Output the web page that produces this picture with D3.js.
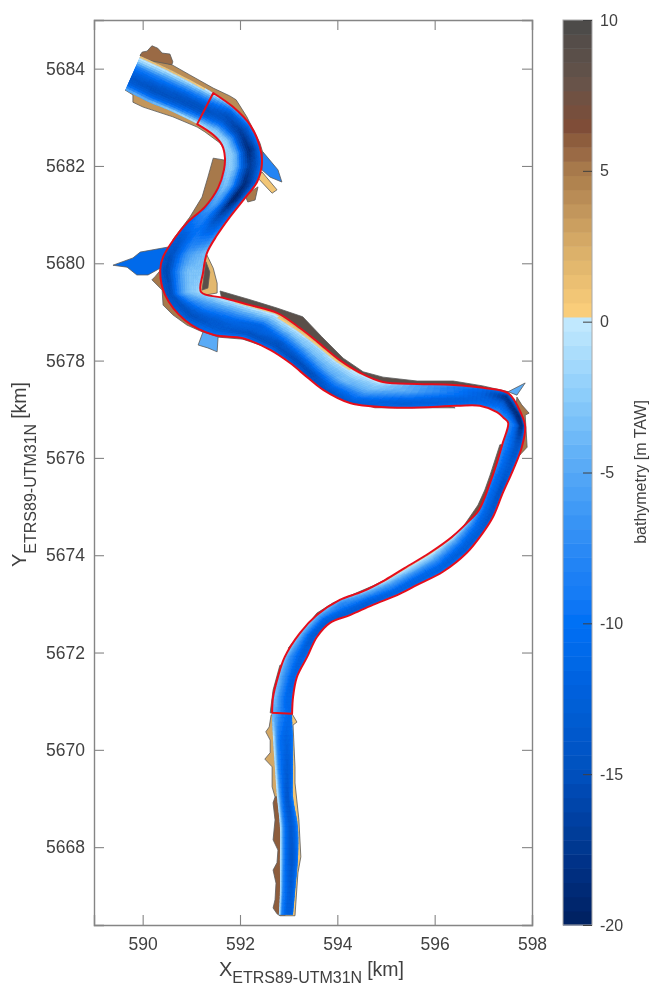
<!DOCTYPE html>
<html>
<head>
<meta charset="utf-8">
<script src="https://cdn.jsdelivr.net/npm/d3@7"></script>
<style>
  body { margin: 0; background: #fff; }
  svg { display: block; }
  text { font-family: "Liberation Sans", Arial, sans-serif; fill: #404040; }
</style>
</head>
<body>
<section id="visualization"></section>
<script>
// ticks
const xTicks = [590, 592, 594, 596, 598];
const yTicks = [5668, 5670, 5672, 5674, 5676, 5678, 5680, 5682, 5684];
const barTicks = [-20, -15, -10, -5, 0, 5, 10];

// colour map stops (bathymetry in m TAW -> colour)
const depthStops = [-20, -17.5, -15, -12.5, -10, -7.5, -5, -2.5, 0, 0.16, 2.5, 5, 6.5, 8, 10];
const depthColors = ['#00205f', '#00368f', '#0550bd', '#045fd9', '#0570f5', '#2b8af5', '#55a8f6', '#8accfa', '#c2e9fe',
                     '#fdd07c', '#d8ad68', '#a97b4c', '#7f4e37', '#66534a', '#4a4a4a'];

// channel banks in km, one pair of points per cross section
const bankA = [[589.95,5684.26],[590.50,5684.01],[590.97,5683.77],[591.45,5683.50],[591.86,5683.21],[592.21,5682.84],
  [592.41,5682.39],[592.45,5682.06],[592.35,5681.67],[592.10,5681.34],[591.79,5680.95],[591.53,5680.58],[591.32,5680.21],
  [591.24,5679.80],[591.20,5679.41],[591.65,5679.29],[592.21,5679.14],[592.76,5678.98],[593.23,5678.67],[593.60,5678.38],
  [594.05,5678.01],[594.47,5677.75],[594.94,5677.56],[595.64,5677.52],[596.38,5677.50],[596.99,5677.44],[597.51,5677.33],
  [597.79,5676.88],[597.86,5676.64],[597.79,5676.22],[597.61,5675.75],[597.40,5675.28],[597.20,5674.79],[596.99,5674.46],
  [596.66,5674.05],[596.17,5673.66],[595.64,5673.39],[595.23,5673.18],[594.73,5672.98],[594.26,5672.77],[593.85,5672.61],
  [593.58,5672.32],[593.38,5671.91],[593.17,5671.50],[593.09,5671.09],[593.07,5670.74],[593.09,5670.20],[593.09,5669.59],
  [593.09,5669.03],[593.19,5668.42],[593.19,5667.74],[593.13,5667.06],[593.09,5666.61]];
const bankB = [[589.64,5683.56],[590.11,5683.32],[590.62,5683.11],[591.12,5682.86],[591.45,5682.64],[591.63,5682.43],
  [591.69,5682.18],[591.67,5681.92],[591.55,5681.55],[591.28,5681.16],[590.93,5680.85],[590.66,5680.52],[590.42,5680.13],
  [590.36,5679.86],[590.46,5679.35],[590.87,5678.83],[591.45,5678.53],[592.06,5678.46],[592.62,5678.22],[593.03,5677.95],
  [593.38,5677.66],[593.71,5677.40],[594.26,5677.13],[595.29,5677.03],[596.46,5677.07],[596.93,5677.07],[597.28,5676.94],
  [597.42,5676.82],[597.51,5676.72],[597.40,5676.31],[597.28,5675.90],[597.14,5675.49],[596.91,5674.93],[596.68,5674.68],
  [596.36,5674.38],[595.90,5674.05],[595.39,5673.74],[594.98,5673.49],[594.51,5673.25],[594.05,5673.08],[593.58,5672.77],
  [593.23,5672.40],[592.92,5671.91],[592.78,5671.50],[592.68,5671.09],[592.66,5670.76],[592.68,5670.20],[592.72,5669.59],
  [592.76,5669.03],[592.82,5668.42],[592.82,5667.74],[592.82,5667.06],[592.80,5666.61]];

// bathymetry across each section, from bank A to bank B
const depthRows = [
  [2,-2,-9,-12,-14,-12,-4],[2,-3,-9,-13,-15,-12,-3],[2,-4,-10,-14,-15,-11,-1],[1,-6,-11,-15,-14,-7,1],
  [-5,-12,-15,-14,-9,-3,-1],[-8,-14,-17,-15,-7,-2,-1],[-10,-16,-19,-14,-5,-2,-2],[-10,-15,-17,-13,-5,-2,-3],
  [-11,-16,-19,-14,-6,-3,-5],[-10,-17,-20,-14,-7,-5,-9],[-9,-14,-15,-11,-8,-9,-11],[-7,-10,-10,-9,-11,-13,-13],
  [-3,-4,-5,-7,-11,-15,-14],[-3,-3,-3,-5,-10,-16,-14],[-1,-2,-3,-5,-9,-15,-14],[0.5,-3,-6,-9,-13,-15,-12],
  [1,-3,-7,-11,-13,-13,-10],[2,-2,-6,-12,-12,-15,-9],[2.5,-1,-4,-9,-14,-15,-10],[2.5,-2,-3,-7,-12,-16,-12],
  [2,-1,-3,-5,-10,-15,-14],[1,-1,-3,-4,-8,-12,-15],[2,-2,-3,-5,-8,-11,-13],[-5,-5,-5,-8,-11,-13,-11],
  [-7,-9,-9,-10,-12,-12,-10],[-9,-11,-12,-12,-12,-11,-9],[-12,-18,-17,-13,-11,-9,-7],[-13,-19,-18,-14,-10,-9,-7],
  [-11,-18,-18,-13,-10,-8,-7],[-10,-14,-14,-12,-10,-9,-7],[-11,-13,-13,-12,-11,-9,-7],[-11,-14,-14,-12,-11,-10,-8],
  [-11,-14,-13,-12,-11,-9,-7],[-11,-13,-12,-11,-9,-6,-2],[-10,-13,-12,-10,-7,-4,1],[-10,-12,-11,-8,-5,-2,2],
  [-10,-12,-11,-8,-5,-2,1],[-10,-12,-11,-8,-6,-3,1],[-10,-13,-12,-10,-7,-5,-1],[-11,-13,-12,-10,-8,-7,-4],
  [-11,-13,-12,-11,-8,-6,-3],[-10,-13,-13,-11,-8,-5,-3],[-9,-12,-12,-10,-8,-6,-3],[-9,-12,-11,-9,-7,-5,-3],
  [-9,-11,-11,-9,-7,-4,-3],[-9,-11,-10,-9,-7,-5,-4],[-9,-11,-12,-11,-10,-7,1],[-9,-12,-13,-12,-10,-7,1],
  [-8,-11,-14,-13,-10,-6,1],[-8,-11,-13,-13,-11,-7,1],[-9,-12,-14,-13,-11,-7,1],[-9,-12,-13,-12,-10,-8,1],
  [-10,-12,-12,-12,-10,-8,1]];

// land and side basins around the channel, km
const northBank = [[589.95,5684.28],[590.60,5684.08],[590.97,5683.87],[591.45,5683.60],[591.79,5683.44],[591.92,5683.36],
  [592.14,5683.01],[592.41,5682.47],[592.47,5682.27],[592.47,5681.96],[592.00,5682.33],[590.97,5683.36],[590.05,5683.97]];
const northBlob = [[589.95,5684.28],[589.99,5684.34],[590.09,5684.36],[590.19,5684.47],[590.31,5684.42],[590.40,5684.32],
  [590.56,5684.30],[590.62,5684.14],[590.60,5684.08],[589.97,5684.20]];
const southBank = [[589.64,5683.56],[589.80,5683.46],[589.80,5683.31],[590.01,5683.21],[590.62,5683.01],[591.12,5682.80],
  [591.28,5682.70],[591.59,5682.47],[591.71,5682.29],[591.49,5682.84],[590.15,5683.56]];
const westBank = [[591.45,5682.16],[591.69,5682.12],[591.84,5681.51],[591.18,5680.48],[590.62,5680.48],[590.66,5680.54],
  [590.97,5680.95],[591.22,5681.36],[591.34,5681.77]];
const bendBank = [[590.46,5679.97],[590.25,5679.72],[590.19,5679.66],[590.40,5679.45],[590.42,5679.14],[590.62,5678.94],
  [590.91,5678.73],[591.45,5678.49],[592.06,5678.44],[592.82,5678.18],[593.44,5677.70],[594.05,5677.27],[594.77,5677.03],
  [596.42,5677.03],[594.88,5677.29],[592.00,5678.84],[590.77,5679.66]];
const innerSand = [[591.32,5680.17],[591.45,5679.90],[591.53,5679.59],[591.53,5679.39],[591.20,5679.33],[591.08,5679.86]];
const innerDark = [[591.30,5680.03],[591.38,5679.82],[591.34,5679.49],[591.22,5679.45]];
const northDark = [[591.59,5679.43],[592.21,5679.25],[592.76,5679.08],[593.29,5678.90],[593.68,5678.49],[594.12,5678.05],
  [594.53,5677.77],[594.94,5677.66],[595.64,5677.58],[596.38,5677.58],[596.99,5677.48],[597.51,5677.36],[596.99,5677.29],
  [594.47,5677.50],[592.82,5678.83],[591.63,5679.25]];
const eastBendBank = [[597.69,5677.25],[597.79,5677.09],[597.94,5676.92],[597.86,5676.88],[597.90,5676.22],[597.75,5676.06],[597.65,5676.78]];
const southEastBank = [[597.34,5676.27],[597.14,5675.65],[597.03,5675.34],[596.89,5675.03],[596.58,5674.58],[596.11,5674.17],
  [595.55,5673.78],[594.73,5673.37],[593.91,5673.02],[593.58,5672.81],[592.99,5672.09],[593.13,5672.05],[594.16,5672.98],
  [595.70,5673.70],[596.93,5674.83],[597.44,5676.27]];
const lowerWestTop = [[592.92,5671.74],[592.82,5671.74],[592.68,5671.23],[592.62,5670.76],[592.82,5670.76]];
const lowerWestSand = [[592.64,5670.72],[592.60,5670.47],[592.53,5670.37],[592.62,5670.20],[592.62,5669.94],[592.51,5669.81],
  [592.66,5669.65],[592.66,5669.24],[592.72,5669.03],[592.88,5669.03],[592.88,5670.72]];
const lowerWestBrown = [[592.72,5669.03],[592.68,5668.91],[592.72,5668.56],[592.68,5668.15],[592.78,5667.94],[592.76,5667.68],
  [592.68,5667.53],[592.74,5667.26],[592.72,5666.92],[592.68,5666.75],[592.76,5666.63],[592.82,5666.59],[592.92,5666.59],[592.92,5669.03]];
const lowerEast = [[593.07,5670.74],[593.17,5670.57],[593.09,5670.51],[593.13,5669.65],[593.13,5669.32],[593.21,5668.56],
  [593.25,5667.80],[593.19,5667.47],[593.13,5666.59],[592.92,5666.59],[592.92,5670.74]];
const eastNub = [[592.37,5681.57],[592.31,5681.30],[592.16,5681.26],[592.10,5681.40]];
const westInlet = [[589.39,5679.96],[589.80,5680.11],[589.95,5680.23],[590.56,5680.34],[590.46,5680.03],[590.36,5679.90],
  [590.11,5679.76],[589.88,5679.76],[589.68,5679.92]];
const southInlet = [[591.24,5678.59],[591.55,5678.49],[591.53,5678.18],[591.34,5678.26],[591.14,5678.32]];
const eastInlet = [[592.47,5682.29],[592.78,5681.92],[592.86,5681.67],[592.62,5681.77],[592.45,5681.92]];
const eastSpit = [[592.45,5681.88],[592.76,5681.51],[592.66,5681.44],[592.37,5681.75]];
const bendInlet = [[597.51,5677.36],[597.86,5677.54],[597.69,5677.29]];

const patches = [
  [northBank, 4], [northBlob, 5.5], [southBank, 3.5], [westBank, 5], [bendBank, 5], [innerSand, 2], [innerDark, 9],
  [northDark, 9], [eastBendBank, 5], [southEastBank, 7.5], [lowerWestTop, 6], [lowerWestSand, 2.5], [lowerWestBrown, 6],
  [lowerEast, 1], [eastNub, 5], [westInlet, -11], [southInlet, -5], [eastInlet, -8], [eastSpit, 1], [bendInlet, -5]
];

const svg = d3.select("section#visualization").append("svg")
  .attr("width", 650)
  .attr("height", 986);

const plotLeft = 94, plotRight = 532, plotTop = 20, plotBottom = 925;
const barLeft = 563, barRight = 592;

const x = d3.scaleLinear().domain([589, 598]).range([plotLeft, plotRight]);
const y = d3.scaleLinear().domain([5666.4, 5685]).range([plotBottom, plotTop]);
const barY = d3.scaleLinear().domain([-20, 10]).range([plotBottom, plotTop]);

// 64 level map, like the figure's colour bar
const ramp = d3.scaleLinear().domain(depthStops).range(depthColors);
const levels = d3.range(64).map(i => ramp(-20 + (i + 0.5) * 30 / 64));
const color = d3.scaleQuantize().domain([-20, 10]).range(levels);

const defs = svg.append("defs");
defs.append("filter").attr("id", "soft").append("feGaussianBlur").attr("stdDeviation", 0.55);
defs.append("filter").attr("id", "softText").append("feGaussianBlur").attr("stdDeviation", 0.3);

const toPx = p => [x(p[0]), y(p[1])];
const line = d3.line().curve(d3.curveCatmullRom.alpha(0.5));
const channel = (from, to) => {
  const a = bankA.slice(from, to).map(toPx);
  const b = bankB.slice(from, to).map(toPx).reverse();
  return line(a) + "L" + line(b).slice(1) + "Z";
};

defs.append("clipPath").attr("id", "water").append("path").attr("d", channel(0, bankA.length));

const map = svg.append("g").attr("filter", "url(#soft)");

// land and side basins
map.append("g").selectAll("path").data(patches).join("path")
  .attr("d", d => d3.line().curve(d3.curveLinear)(d[0].map(toPx)) + "Z")
  .attr("fill", d => color(d[1]))
  .attr("stroke", "#5a5a5a")
  .attr("stroke-width", 0.8);

// channel bed
const water = map.append("g").attr("clip-path", "url(#water)");
water.append("path").attr("d", channel(0, bankA.length)).attr("fill", color(-9));

const lerp = (a, b, t) => a + (b - a) * t;
const subAlong = 6, subAcross = 3;
const cells = [];
depthRows.slice(0, -1).forEach((row, i) => {
  const next = depthRows[i + 1];
  row.slice(0, -1).forEach((v, j) => {
    d3.range(subAlong).forEach(sa => {
      d3.range(subAcross).forEach(sc => {
        // a little past both banks so the curved clip is always covered
        const corner = (s, c) => {
          const t = (sa + s) / subAlong;
          let u = (j + (sc + c) / subAcross) / (row.length - 1);
          u = u === 0 ? -0.12 : u === 1 ? 1.12 : u;
          const ax = lerp(bankA[i][0], bankA[i + 1][0], t), ay = lerp(bankA[i][1], bankA[i + 1][1], t);
          const bx = lerp(bankB[i][0], bankB[i + 1][0], t), by = lerp(bankB[i][1], bankB[i + 1][1], t);
          return toPx([lerp(ax, bx, u), lerp(ay, by, u)]);
        };
        const t = (sa + 0.5) / subAlong, u = (sc + 0.5) / subAcross;
        const value = lerp(lerp(v, row[j + 1], u), lerp(next[j], next[j + 1], u), t);
        cells.push({ pts: [corner(0, 0), corner(1, 0), corner(1, 1), corner(0, 1)], value });
      });
    });
  });
});
water.selectAll("polygon").data(cells).join("polygon")
  .attr("points", d => d.pts.join(" "))
  .attr("fill", d => color(d.value))
  .attr("stroke", d => color(d.value))
  .attr("stroke-width", 0.5);

// red outline of the study reach
map.append("path")
  .attr("d", channel(3, 46))
  .attr("fill", "none")
  .attr("stroke", "#e5101c")
  .attr("stroke-width", 2)
  .attr("stroke-linejoin", "round");

// plot frame with MATLAB style inward ticks
const plotFrame = svg.append("g").attr("filter", "url(#softText)");
const styleAxis = g => {
  g.selectAll(".domain").attr("stroke", "#858585").attr("stroke-width", 1.4);
  g.selectAll(".tick line").attr("stroke", "#858585").attr("stroke-width", 1.1);
  g.selectAll("text").attr("font-family", null).attr("font-size", 17.5).attr("fill", null);
};
plotFrame.append("g").attr("transform", `translate(0,${plotBottom})`)
  .call(d3.axisBottom(x).tickValues(xTicks).tickFormat(String).tickSize(-10).tickPadding(13)).call(styleAxis);
plotFrame.append("g").attr("transform", `translate(0,${plotTop})`)
  .call(d3.axisTop(x).tickValues(xTicks).tickFormat("").tickSize(-10)).call(styleAxis);
plotFrame.append("g").attr("transform", `translate(${plotLeft},0)`)
  .call(d3.axisLeft(y).tickValues(yTicks).tickFormat(String).tickSize(-10).tickPadding(9)).call(styleAxis);
plotFrame.append("g").attr("transform", `translate(${plotRight},0)`)
  .call(d3.axisRight(y).tickValues(yTicks).tickFormat("").tickSize(-10)).call(styleAxis);

// axis titles
const xTitle = plotFrame.append("text").attr("x", 219).attr("y", 976).attr("font-size", 20);
xTitle.append("tspan").text("X");
xTitle.append("tspan").attr("dy", 6.5).attr("font-size", 16).text("ETRS89-UTM31N");
xTitle.append("tspan").attr("dy", -6.5).attr("dx", 5).attr("font-size", 19.5).text("[km]");

const yTitle = plotFrame.append("text").attr("transform", "translate(26,567) rotate(-90)").attr("font-size", 20);
yTitle.append("tspan").text("Y");
yTitle.append("tspan").attr("dy", 10).attr("font-size", 16).text("ETRS89-UTM31N");
yTitle.append("tspan").attr("dy", -10).attr("dx", 5).attr("font-size", 19.5).text("[km]");

// colour bar
const bar = svg.append("g").attr("filter", "url(#softText)");
bar.selectAll("rect").data(levels).join("rect")
  .attr("x", barLeft)
  .attr("width", barRight - barLeft)
  .attr("y", d => barY(color.invertExtent(d)[1]))
  .attr("height", d => barY(color.invertExtent(d)[0]) - barY(color.invertExtent(d)[1]) + 0.5)
  .attr("fill", d => d);
bar.append("rect")
  .attr("x", barLeft).attr("y", plotTop)
  .attr("width", barRight - barLeft).attr("height", plotBottom - plotTop)
  .attr("fill", "none").attr("stroke", "#a8a8a8").attr("stroke-width", 1);
const barAxis = bar.append("g").attr("transform", `translate(${barRight},0)`)
  .call(d3.axisRight(barY).tickValues(barTicks).tickFormat(String).tickSize(-9).tickPadding(16));
barAxis.select(".domain").remove();
barAxis.selectAll(".tick line").attr("stroke", "#404040").attr("stroke-width", 1);
barAxis.selectAll("text").attr("font-family", null).attr("font-size", 16).attr("fill", null).attr("x", 8);

bar.append("text")
  .attr("transform", "translate(646,472) rotate(-90)")
  .attr("text-anchor", "middle")
  .attr("font-size", 16)
  .text("bathymetry [m TAW]");
</script>
</body>
</html>
